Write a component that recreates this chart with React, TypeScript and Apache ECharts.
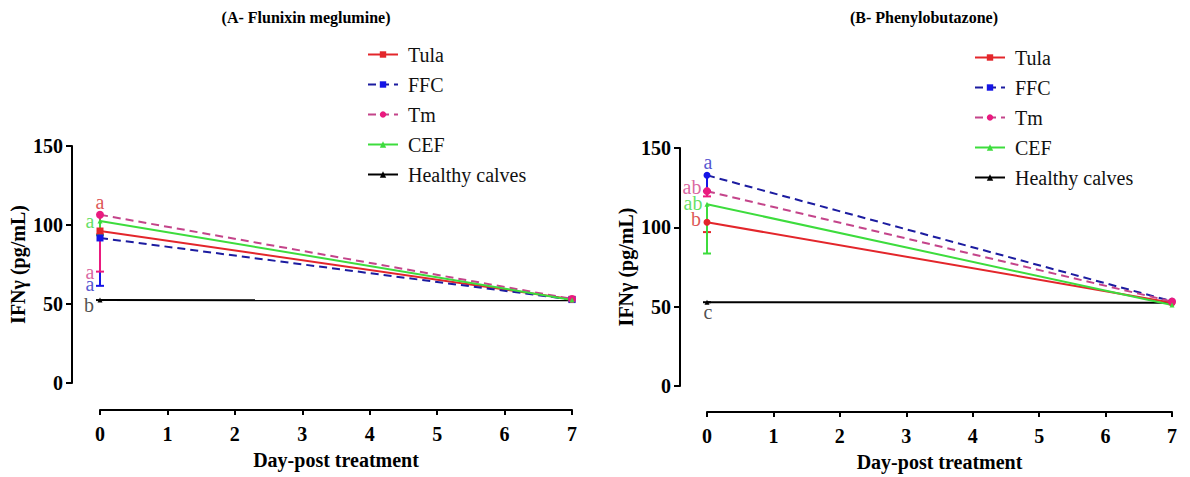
import React, { useEffect, useRef } from 'react';
import * as echarts from 'echarts';

const days = [0, 7];
const seriesNames = ['Tula', 'FFC', 'Tm', 'CEF', 'Healthy calves'];

// Panel A – Flunixin meglumine
const tulaA = [96.2, 53];
const ffcA = [91.8, 52.8];
const tmA = [106.5, 53.2];
const cefA = [102.6, 52.6];
const healthyA = [52.5, 52.3];
const lowA = [94, 61.5, 70.5, 93.5, 52.5]; // lower error bounds at day 0
const lettersA = ['a', 'a', 'a', 'a', 'b'];

// Panel B – Phenylobutazone
const tulaB = [103.2, 52.5];
const ffcB = [132.8, 53.4];
const tmB = [122.8, 53.2];
const cefB = [114.6, 51];
const healthyB = [52.8, 52.5];
const lowB = [97, 122.8, 119.5, 83.5, 52.8];
const lettersB = ['b', 'a', 'ab', 'ab', 'c'];

const FONT = 'Liberation Serif';
const colors = {
  tula: '#e3262b',
  ffcLine: '#1c1ca0',
  ffcSym: '#1515e6',
  tmLine: '#c4448a',
  tmSym: '#ea1a7f',
  cef: '#3ddc3d',
  healthy: '#000000',
};
const letterColors = ['#d42a2a', '#2a2ac4', '#d0408a', '#3cd83c', '#222222'];

function makeSeries(
  gi: number,
  data: number[][],
  symbols: string[],
  lows: number[]
) {
  const lineColors = [colors.tula, colors.ffcLine, colors.tmLine, colors.cef, colors.healthy];
  const symColors = [colors.tula, colors.ffcSym, colors.tmSym, colors.cef, colors.healthy];
  const dashed = [false, true, true, false, false];
  const sizes = [7, 7, 8, 5, 5];
  const out: any[] = [];
  data.forEach((vals, i) => {
    out.push({
      type: 'line',
      name: seriesNames[i],
      xAxisIndex: gi,
      yAxisIndex: gi,
      data: days.map((d, k) => [d, vals[k]]),
      symbol: symbols[i],
      symbolSize: sizes[i],
      showAllSymbol: true,
      z: 3 + (i === 4 ? 0 : 1),
      lineStyle: {
        color: lineColors[i],
        width: 2,
        type: dashed[i] ? [8, 5] : 'solid',
      },
      itemStyle: { color: symColors[i] },
    });
    out.push({
      type: 'custom',
      xAxisIndex: gi,
      yAxisIndex: gi,
      z: 2,
      data: [[days[0], vals[0], lows[i]]],
      renderItem: (_p: any, api: any) => {
        const top = api.coord([api.value(0), api.value(1)]);
        const bot = api.coord([api.value(0), api.value(2)]);
        const st = { stroke: symColors[i], lineWidth: 2 };
        return {
          type: 'group',
          children: [
            { type: 'line', shape: { x1: top[0], y1: top[1], x2: bot[0], y2: bot[1] }, style: st },
            { type: 'line', shape: { x1: bot[0] - 4, y1: bot[1], x2: bot[0] + 4, y2: bot[1] }, style: st },
          ],
        };
      },
    });
  });
  return out;
}

function letterSeries(gi: number, letters: string[], anchors: number[], dx: number[]) {
  return {
    type: 'scatter',
    xAxisIndex: gi,
    yAxisIndex: gi,
    symbolSize: 0,
    silent: true,
    z: 10,
    data: letters.map((t, i) => ({
      value: [0, anchors[i]],
      label: {
        show: true,
        formatter: t,
        position: 'inside',
        offset: [dx[i], 0],
        color: letterColors[i],
        fontFamily: FONT,
        fontSize: 20,
      },
    })),
  };
}

function axisPair(gi: number, xOffset: number, yOffset: number) {
  const lab = { color: '#000', fontFamily: FONT, fontWeight: 'bold', fontSize: 20 };
  return {
    x: {
      gridIndex: gi,
      type: 'value',
      min: 0,
      max: 7,
      interval: 1,
      offset: xOffset,
      axisLine: { show: true, onZero: false, lineStyle: { color: '#000', width: 2 } },
      axisTick: { show: true, length: 5, lineStyle: { color: '#000', width: 2 } },
      splitLine: { show: false },
      axisLabel: { ...lab, margin: 14 },
      name: 'Day-post treatment',
      nameLocation: 'middle',
      nameGap: 40,
      nameTextStyle: { ...lab },
    },
    y: {
      gridIndex: gi,
      type: 'value',
      min: 0,
      max: 150,
      interval: 50,
      offset: yOffset,
      axisLine: { show: true, onZero: false, lineStyle: { color: '#000', width: 2 } },
      axisTick: { show: true, length: 6, lineStyle: { color: '#000', width: 2 } },
      splitLine: { show: false },
      axisLabel: { ...lab, margin: 9 },
      name: 'IFNγ (pg/mL)',
      nameLocation: 'middle',
      nameGap: 44,
      nameTextStyle: { ...lab },
    },
  };
}

export default function App() {
  const ref = useRef<HTMLDivElement>(null);
  useEffect(() => {
    if (!ref.current) return;
    const chart = echarts.init(ref.current, null, { renderer: 'svg' });
    const a = axisPair(0, 27, 28);
    const b = axisPair(1, 26, 27);
    const legendBase = {
      orient: 'vertical',
      itemWidth: 30,
      itemHeight: 8,
      itemGap: 9,
      textStyle: { fontFamily: FONT, fontSize: 20, color: '#111', padding: [0, 0, 0, 5], lineHeight: 21 },
      data: seriesNames,
    };
    chart.setOption({
      animation: false,
      backgroundColor: '#ffffff',
      grid: [
        { left: 100, right: 618, top: 146, bottom: 94 },
        { left: 707, right: 18, top: 148, bottom: 90 },
      ],
      xAxis: [a.x, b.x],
      yAxis: [a.y, b.y],
      legend: [
        { ...legendBase, left: 362, top: 39 },
        { ...legendBase, left: 969, top: 42 },
      ],
      graphic: [
        {
          type: 'text',
          x: 306,
          y: 17,
          style: {
            text: '(A- Flunixin meglumine)',
            fontFamily: FONT,
            fontWeight: 'bold',
            fontSize: 16,
            fill: '#000',
            textAlign: 'center',
            textVerticalAlign: 'middle',
          },
        },
        {
          type: 'text',
          x: 924,
          y: 17,
          style: {
            text: '(B- Phenylobutazone)',
            fontFamily: FONT,
            fontWeight: 'bold',
            fontSize: 16,
            fill: '#000',
            textAlign: 'center',
            textVerticalAlign: 'middle',
          },
        },
      ],
      series: [
        ...makeSeries(0, [tulaA, ffcA, tmA, cefA, healthyA], ['rect', 'rect', 'circle', 'triangle', 'triangle'], lowA),
        ...makeSeries(1, [tulaB, ffcB, tmB, cefB, healthyB], ['circle', 'circle', 'circle', 'triangle', 'triangle'], lowB),
        // letter order: Tula, FFC, Tm, CEF, Healthy
        letterSeries(0, lettersA, [114.5, 62.5, 70.5, 102.7, 49.5], [0, -10, -10, -10, -11]),
        letterSeries(1, lettersB, [105, 141, 125.5, 115.5, 46.5], [-11, 1, -15, -14, 1]),
      ],
    });
    return () => chart.dispose();
  }, []);
  return (
    <div
      ref={ref}
      style={{ position: 'fixed', left: 0, top: 0, width: 1190, height: 477, background: '#fff' }}
    />
  );
}
